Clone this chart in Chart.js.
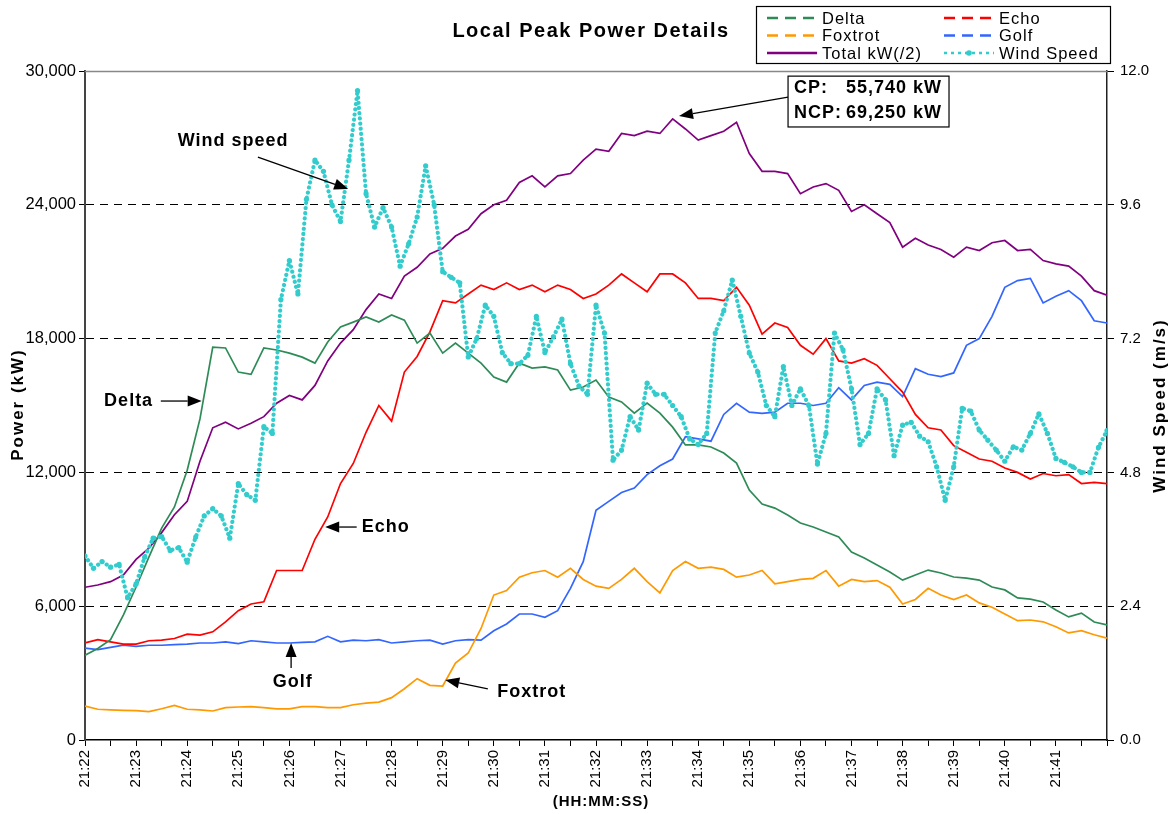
<!DOCTYPE html>
<html>
<head>
<meta charset="utf-8">
<script src="https://cdn.jsdelivr.net/npm/chart.js@4.4.1/dist/chart.umd.min.js"></script>
<style>
  html,body{margin:0;padding:0;background:#fff;}
  #wrap{width:1173px;height:814px;position:relative;}
</style>
</head>
<body>
<div id="wrap"><canvas id="c" width="1173" height="814"></canvas></div>
<script>
// ---------------- DATA ----------------
const xTickLabels = ['21:22','21:23','21:24','21:25','21:26','21:27','21:28','21:29','21:30','21:31',
                     '21:32','21:33','21:34','21:35','21:36','21:37','21:38','21:39','21:40','21:41'];
const powerStepSec = 15;   // power samples every 15 s from 21:22:00
const windStepSec = 10;    // wind samples every 10 s from 21:22:00

const delta = [3800,4100,4500,5600,6860,8200,9500,10450,12100,14400,
  17620,17580,16500,16400,17580,17490,17350,17170,16900,17850,
  18520,18740,18970,18740,19060,18830,17800,18250,17350,17800,
  17350,16900,16280,16050,16900,16680,16730,16590,15690,15830,
  16140,15380,15160,14660,15110,14660,14030,13230,13230,13140,
  12870,12420,11210,10580,10400,10090,9730,9550,9330,9100,
  8430,8160,7850,7530,7170,7400,7620,7490,7310,7260,
  7170,6860,6730,6370,6320,6190,5830,5520,5690,5290,5160];

const echo = [4350,4500,4400,4300,4300,4450,4480,4550,4750,4700,
  4850,5300,5800,6100,6200,7600,7600,7600,9000,10000,
  11500,12400,13800,15000,14300,16500,17200,18300,19700,19600,
  20000,20400,20200,20500,20200,20400,20100,20400,20200,19800,
  20000,20400,20900,20500,20100,20900,20900,20500,19800,19800,
  19700,20300,19500,18200,18700,18500,17700,17300,18000,17000,
  16900,17100,16800,16200,15600,14600,14000,13900,13200,12900,
  12600,12500,12200,12000,11700,11950,11850,11900,11500,11550,11500];

const foxtrot = [1520,1380,1350,1330,1320,1270,1400,1550,1380,1350,
  1300,1450,1480,1500,1450,1400,1400,1500,1500,1450,
  1450,1580,1650,1700,1900,2300,2750,2450,2420,3450,
  3900,5000,6500,6700,7300,7500,7600,7300,7700,7200,
  6900,6800,7200,7700,7100,6600,7600,8000,7700,7750,
  7650,7300,7400,7600,7000,7100,7200,7250,7600,6900,
  7200,7100,7150,6850,6100,6300,6800,6500,6300,6500,
  6150,5950,5650,5350,5380,5300,5080,4800,4900,4720,4570];

const golf = [4120,4050,4150,4250,4200,4250,4250,4280,4300,4350,
  4350,4400,4320,4450,4400,4350,4350,4380,4400,4650,
  4400,4480,4450,4500,4350,4400,4450,4480,4300,4450,
  4500,4480,4900,5200,5650,5650,5500,5800,6800,8000,
  10300,10700,11100,11300,11900,12300,12600,13600,13500,13400,
  14600,15100,14700,14650,14700,15100,15100,15000,15100,15800,
  15250,15900,16050,15950,15400,16650,16400,16300,16460,17700,
  18000,19000,20300,20600,20700,19600,19900,20150,19700,18800,18700];

const totalHalf = [6850,6950,7100,7400,8100,8600,9300,10100,10700,12500,
  14000,14250,13950,14200,14500,15100,15450,15250,15900,17000,
  17800,18400,19300,20000,19800,20800,21200,21800,22050,22600,
  22900,23600,24000,24200,25000,25300,24800,25300,25400,26000,
  26500,26400,27200,27100,27300,27200,27850,27400,26900,27100,
  27300,27700,26300,25500,25500,25400,24500,24800,24950,24650,
  23700,24000,23600,23200,22100,22500,22200,22000,21650,22100,
  21950,22300,22400,21950,22000,21500,21350,21250,20800,20150,19950];

const windSpeed = [3.3,3.08,3.2,3.1,3.15,2.55,2.8,3.28,3.62,3.65,
  3.4,3.45,3.19,3.64,4.02,4.15,4.02,3.62,4.6,4.4,
  4.3,5.62,5.5,7.9,8.6,8.0,9.7,10.4,10.2,9.6,
  9.3,10.4,11.65,9.8,9.2,9.55,9.2,8.5,8.9,9.38,
  10.3,9.6,8.4,8.3,8.2,6.87,7.2,7.8,7.6,6.95,
  6.75,6.75,6.9,7.6,6.95,7.23,7.55,6.75,6.35,6.2,
  7.8,7.3,5.02,5.2,5.8,5.56,6.4,6.2,6.2,6.0,
  5.8,5.4,5.3,5.5,7.3,7.7,8.25,7.6,6.94,6.6,
  6.0,5.8,6.7,6.0,6.3,6.0,4.95,5.5,7.3,7.0,
  6.3,5.3,5.5,6.3,6.1,5.1,5.65,5.7,5.45,5.35,
  4.9,4.3,4.9,5.95,5.9,5.56,5.38,5.2,5.0,5.26,
  5.2,5.5,5.85,5.5,5.05,4.98,4.9,4.8,4.8,5.25,5.55];

const seriesNames = ['Delta','Echo','Foxtrot','Golf','Total kW(/2)','Wind Speed'];
const seriesColors = ['#2E8B57','#FF0000','#FF9900','#3366FF','#800080','#33CCCC'];

// annotation texts (positions given in data units: seconds after 21:22, kW)
const notes = [
  {text:'Wind speed', t:174, v:26860, align:'center', from:[203,26140], to:[309,24710]},
  {text:'Delta',      t:80,  v:15200, align:'right',  from:[89,15200],  to:[137,15200]},
  {text:'Echo',       t:325, v:9550,  align:'left',   from:[319,9550],  to:[282,9550]},
  {text:'Golf',       t:244, v:2600,  align:'center', from:[242,3230],  to:[242,4350]},
  {text:'Foxtrot',    t:484, v:2150,  align:'left',   from:[473,2290],  to:[423,2690]}
];
const cpLines = [['CP:','55,740 kW'],['NCP:','69,250 kW']];

// --------------- BUILD ----------------
const FONT = "'Liberation Sans', Arial, sans-serif";
const pts = (arr, step) => arr.map((v, i) => ({x: i * step, y: v}));

const powerSets = [delta, echo, foxtrot, golf, totalHalf].map((arr, i) => ({
  label: seriesNames[i],
  data: pts(arr, powerStepSec),
  borderColor: seriesColors[i],
  backgroundColor: seriesColors[i],
  borderWidth: 1.7,
  pointRadius: 0,
  tension: 0,
  yAxisID: 'y',
  order: 1
}));
const windSet = {
  label: seriesNames[5],
  data: pts(windSpeed, windStepSec),
  borderColor: seriesColors[5],
  backgroundColor: seriesColors[5],
  borderWidth: 4.2,
  borderDash: [0.01, 5.2],
  borderCapStyle: 'round',
  pointRadius: 2.6,
  pointBorderWidth: 0,
  pointBackgroundColor: seriesColors[5],
  tension: 0,
  yAxisID: 'y1',
  order: 0
};

function arrow(ctx, x1, y1, x2, y2) {
  const ang = Math.atan2(y2 - y1, x2 - x1);
  const hl = 14, hw = 5.5;
  const bx = x2 - hl * Math.cos(ang), by = y2 - hl * Math.sin(ang);
  ctx.beginPath();
  ctx.moveTo(x1, y1); ctx.lineTo(bx, by);
  ctx.lineWidth = 1.3; ctx.strokeStyle = '#000'; ctx.stroke();
  ctx.beginPath();
  ctx.moveTo(x2, y2);
  ctx.lineTo(bx + hw * Math.sin(ang), by - hw * Math.cos(ang));
  ctx.lineTo(bx - hw * Math.sin(ang), by + hw * Math.cos(ang));
  ctx.closePath(); ctx.fillStyle = '#000'; ctx.fill();
}

const decor = {
  id: 'decor',
  beforeDatasetsDraw(chart) {
    const {ctx, chartArea: a} = chart;
    ctx.save();
    ctx.strokeStyle = '#888'; ctx.lineWidth = 1.5;
    ctx.beginPath(); ctx.moveTo(a.left, a.top + 0.5); ctx.lineTo(a.right, a.top + 0.5); ctx.stroke();
    ctx.restore();
  },
  afterDraw(chart) {
    const {ctx, chartArea: a} = chart;
    const xs = chart.scales.x, ys = chart.scales.y;
    const px = t => xs.getPixelForValue(t), py = v => ys.getPixelForValue(v);
    const spacing = s => { try { ctx.letterSpacing = s; } catch (e) {} };
    ctx.save();
    ctx.fillStyle = '#000';
    ctx.textBaseline = 'middle';
    // title
    spacing('1.5px');
    ctx.font = 'bold 20px ' + FONT; ctx.textAlign = 'center';
    ctx.fillText('Local Peak Power Details', 591, 31);
    // axis titles
    spacing('1px');
    ctx.font = 'bold 15px ' + FONT;
    ctx.fillText('(HH:MM:SS)', (a.left + a.right) / 2 + 5, 802);
    spacing('2px');
    ctx.font = 'bold 17px ' + FONT;
    ctx.save(); ctx.translate(18, (a.top + a.bottom) / 2 - 1); ctx.rotate(-Math.PI / 2);
    ctx.fillText('Power (kW)', 0, 0); ctx.restore();
    ctx.save(); ctx.translate(1160, (a.top + a.bottom) / 2); ctx.rotate(-Math.PI / 2);
    ctx.fillText('Wind Speed (m/s)', 0, 0); ctx.restore();
    // notes
    spacing('1px');
    ctx.font = 'bold 18px ' + FONT;
    notes.forEach(n => {
      ctx.textAlign = n.align;
      ctx.fillText(n.text, px(n.t), py(n.v));
      arrow(ctx, px(n.from[0]), py(n.from[1]), px(n.to[0]), py(n.to[1]));
    });
    // CP box
    const bx1 = px(825.5), bx2 = px(1014.5), by1 = py(29770), by2 = py(27490);
    ctx.fillStyle = '#fff'; ctx.fillRect(bx1, by1, bx2 - bx1, by2 - by1);
    ctx.strokeStyle = '#000'; ctx.lineWidth = 1.2; ctx.strokeRect(bx1, by1, bx2 - bx1, by2 - by1);
    ctx.fillStyle = '#000'; ctx.textAlign = 'left';
    const rowsV = [29240, 28120];
    cpLines.forEach((r, i) => {
      ctx.fillText(r[0], px(832.5), py(rowsV[i]));
      ctx.fillText(r[1], px(893.6), py(rowsV[i]));
    });
    arrow(ctx, px(825.5), py(28830), px(697.5), py(27980));
    // legend
    const L = 756, T = 6, R = 1110, B = 63;
    ctx.fillStyle = '#fff'; ctx.fillRect(L, T, R - L, B - T);
    ctx.strokeStyle = '#000'; ctx.lineWidth = 1.2; ctx.strokeRect(L + 0.5, T + 0.5, R - L, B - T);
    spacing('1px');
    ctx.font = '16.5px ' + FONT; ctx.textAlign = 'left';
    const cols = [[767, 822], [944, 999]], rows = [18, 35.5, 53];
    seriesNames.forEach((name, i) => {
      const c = cols[i % 2], y = rows[Math.floor(i / 2)];
      ctx.save();
      ctx.strokeStyle = seriesColors[i];
      if (i < 4) { ctx.lineWidth = 2.5; ctx.setLineDash([11, 7]); }
      else if (i === 4) { ctx.lineWidth = 2.5; ctx.setLineDash([]); }
      else { ctx.lineWidth = 2.5; ctx.setLineDash([3, 4]); }
      ctx.beginPath(); ctx.moveTo(c[0], y); ctx.lineTo(c[0] + 50, y); ctx.stroke();
      if (i === 5) { ctx.fillStyle = seriesColors[i]; ctx.beginPath(); ctx.arc(c[0] + 25, y, 2.8, 0, Math.PI * 2); ctx.fill(); }
      ctx.restore();
      ctx.fillStyle = '#000';
      ctx.fillText(name, c[1], y + 1);
    });
    ctx.restore();
  }
};

Chart.defaults.font.family = FONT;
Chart.defaults.color = '#000';

new Chart(document.getElementById('c'), {
  type: 'line',
  data: {datasets: [...powerSets, windSet]},
  options: {
    responsive: false,
    animation: false,
    events: [],
    layout: {padding: {top: 71, left: 0, right: 0, bottom: 0}},
    plugins: {legend: {display: false}, title: {display: false}, tooltip: {enabled: false}},
    scales: {
      x: {
        type: 'linear', min: 0, max: 1200,
        afterFit: s => { s.height = 74; },
        ticks: {
          stepSize: 30, maxTicksLimit: 100, autoSkip: false, maxRotation: 90, minRotation: 90,
          padding: 4, font: {size: 15},
          callback: v => (v % 60 === 0 && xTickLabels[v / 60]) ? xTickLabels[v / 60] : ''
        },
        grid: {drawOnChartArea: false, drawTicks: true, tickLength: 6, color: '#000', lineWidth: 1},
        border: {display: true, color: '#000', width: 1.5}
      },
      y: {
        position: 'left', min: 0, max: 30000,
        afterFit: s => { s.width = 85; },
        ticks: {stepSize: 6000, padding: 3, font: {size: 16.5},
          callback: v => v.toLocaleString('en-US')},
        grid: {
          color: c => (c.tick && (c.tick.value === 0 || c.tick.value === 30000)) ? 'rgba(0,0,0,0)' : '#000',
          tickColor: '#000', lineWidth: 1, tickLength: 6, drawTicks: true
        },
        border: {display: true, color: '#444', width: 2, dash: [8, 6]}
      },
      y1: {
        position: 'right', min: 0, max: 12,
        afterFit: s => { s.width = 66; },
        ticks: {stepSize: 2.4, padding: 6, font: {size: 15}, callback: v => v.toFixed(1)},
        grid: {drawOnChartArea: false, tickLength: 7, color: '#000'},
        border: {display: true, color: '#222', width: 1.5}
      }
    }
  },
  plugins: [decor]
});
</script>
</body>
</html>
